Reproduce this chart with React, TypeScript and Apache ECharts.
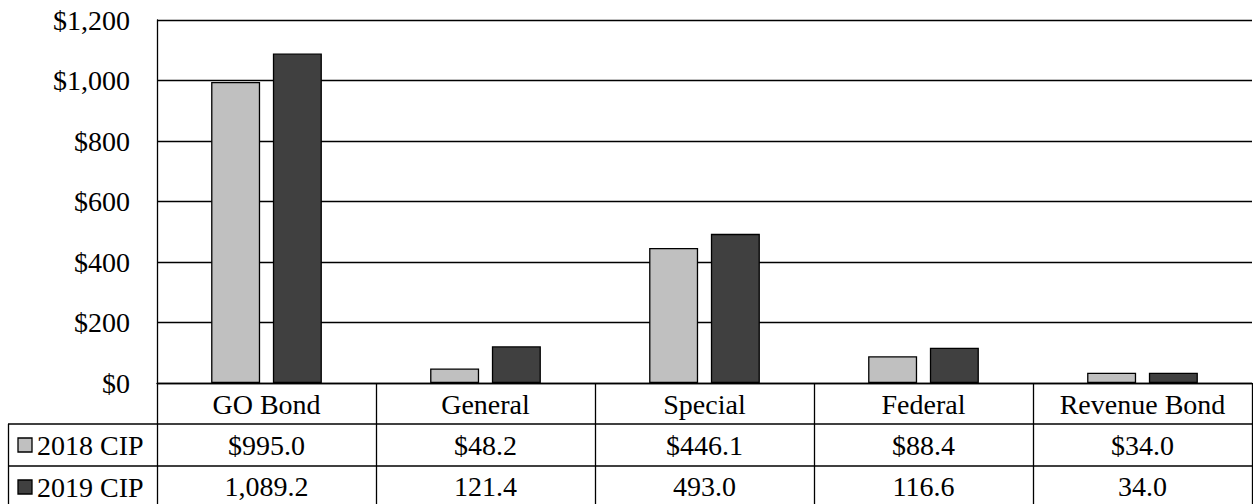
import React, { useEffect, useRef } from "react";
import * as echarts from "echarts";

const categories = ["GO Bond", "General", "Special", "Federal", "Revenue Bond"];
const seriesNames = ["2018 CIP", "2019 CIP"];
const values2018 = [995.0, 48.2, 446.1, 88.4, 34.0];
const values2019 = [1089.2, 121.4, 493.0, 116.6, 34.0];
const colors = ["#C0C0C0", "#404040"];

const FONT = "Liberation Serif";
const FS = 28;

const fmt1 = (v: number) =>
  v.toLocaleString("en-US", { minimumFractionDigits: 1, maximumFractionDigits: 1 });
const row2018 = values2018.map((v) => "$" + fmt1(v));
const row2019 = values2019.map((v) => fmt1(v));

export default function App() {
  const ref = useRef<HTMLDivElement>(null);
  useEffect(() => {
    document.body.style.margin = "0";
    if (!ref.current) return;
    const chart = echarts.init(ref.current, null, { renderer: "svg" });
    const W = 1253;
    const gridLeft = 157;
    const gridTop = 20;
    const gridBottom = 121;
    const axisY = 504 - gridBottom; // 383
    const rowH = 41;
    const tableLeft = 8;
    const rightX = W - 1;
    const lineStyle = { stroke: "#000", lineWidth: 1.3 };
    const textBase = { color: "#000", fontFamily: FONT, fontSize: FS };

    const rowAxis = (data: string[], offset: number, margin: number) => ({
      type: "category",
      data,
      position: "bottom",
      offset,
      axisLine: { show: false },
      axisTick: { show: false },
      axisLabel: { ...textBase, margin, verticalAlign: "middle", interval: 0 },
      splitLine: { show: false },
    });

    chart.setOption({
      animation: false,
      textStyle: { fontFamily: FONT },
      grid: { left: gridLeft, top: gridTop, right: W - rightX, bottom: gridBottom, containLabel: false },
      xAxis: [
        {
          type: "category",
          data: categories,
          position: "bottom",
          axisLine: { show: true, lineStyle: { color: "#000", width: 1.3 } },
          axisTick: { show: true, length: 504 - axisY, lineStyle: { color: "#000", width: 1.3 } },
          axisLabel: { ...textBase, margin: 21, verticalAlign: "middle", interval: 0 },
        },
        rowAxis(row2018, rowH, 21),
        rowAxis(row2019, rowH * 2 + 1, 20),
      ],
      yAxis: {
        type: "value",
        min: 0,
        max: 1200,
        interval: 200,
        axisLine: { show: true, lineStyle: { color: "#000", width: 1.3 } },
        axisTick: { show: false },
        splitLine: { show: true, lineStyle: { color: "#000", width: 1.3 } },
        axisLabel: {
          ...textBase,
          margin: 27,
          formatter: (v: number) => "$" + v.toLocaleString("en-US"),
        },
      },
      series: [
        {
          name: seriesNames[0],
          type: "bar",
          data: values2018,
          xAxisIndex: 0,
          barWidth: 49,
          barGap: "26%",
          itemStyle: { color: colors[0], borderColor: "#000", borderWidth: 1.3 },
        },
        {
          name: seriesNames[1],
          type: "bar",
          data: values2019,
          xAxisIndex: 0,
          barWidth: 49,
          barGap: "26%",
          itemStyle: { color: colors[1], borderColor: "#000", borderWidth: 1.3 },
        },
      ],
      graphic: [
        { type: "line", shape: { x1: tableLeft, y1: axisY + rowH, x2: rightX, y2: axisY + rowH }, style: lineStyle },
        { type: "line", shape: { x1: tableLeft, y1: axisY + rowH * 2 + 1, x2: rightX, y2: axisY + rowH * 2 + 1 }, style: lineStyle },
        { type: "line", shape: { x1: tableLeft + 0.5, y1: axisY + rowH, x2: tableLeft + 0.5, y2: 504 }, style: lineStyle },
        ...seriesNames.flatMap((name, i) => {
          const cy = axisY + rowH + (rowH + 1) * i + 21;
          return [
            {
              type: "rect",
              shape: { x: 18, y: cy - 7, width: 14, height: 14 },
              style: { fill: colors[i], stroke: "#000", lineWidth: 1.3 },
            },
            {
              type: "text",
              x: 37,
              y: cy,
              style: { text: name, fill: "#000", fontFamily: FONT, fontSize: FS, verticalAlign: "middle" },
            },
          ];
        }),
      ],
    });
    return () => chart.dispose();
  }, []);
  return <div ref={ref} style={{ width: 1253, height: 504 }} />;
}
